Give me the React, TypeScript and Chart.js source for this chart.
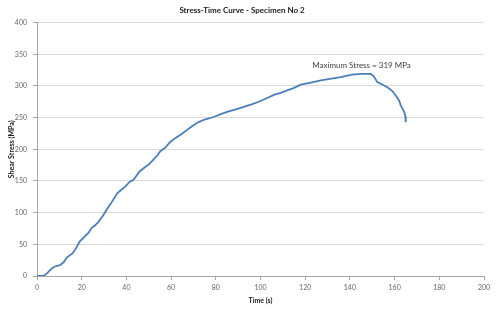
import React, { useEffect, useRef } from "react";
import { Chart, registerables } from "chart.js";

Chart.register(...registerables);

const timeSeconds: number[] = [
  0, 2, 3.6, 5, 6.6, 8, 10.3, 12, 13.3, 16, 17.5, 19, 21.5, 23, 24.5, 26, 27.5, 29.5, 31.2, 33.5,
  36, 38, 39.5, 41.4, 43.2, 45.9, 48.4, 50, 52.2, 54, 55.2, 57.5, 59.6, 62, 64.9, 68, 70, 72.3,
  75, 79, 82, 85, 89, 92.5, 96, 99.2, 103, 106, 109, 112, 115, 118, 122, 127, 131, 135.9, 141,
  145, 149.3, 150.5, 152.3, 154, 156.8, 159, 160.5, 162, 162.8, 164.3, 164.8, 165,
];
const stressMPa: number[] = [
  0, 0, 1.5, 6, 12, 15, 17, 22, 29, 36, 44, 54, 63, 68, 76, 80, 85.5, 95, 105, 117,
  131, 137, 141, 148.5, 152, 165, 172, 176, 184, 191, 197, 203, 211.5, 218, 224.6, 233, 238, 243,
  247, 251, 255, 259, 263, 267, 271, 275, 281, 286, 289, 293, 297, 302, 305, 308.7, 311, 314, 318,
  319, 319, 316, 306, 303, 298, 292, 285, 277, 269, 259, 252, 243,
];
const maxLabel = "Maximum Stress = 319 MPa";
const maxPoint = { t: 147, s: 319 };
const chartTitle = "Stress-Time Curve - Specimen No 2";
const xTitle = "Time (s)";
const yTitle = "Shear Stress (MPa)";

const FONT = "Lato, 'Open Sans', 'DejaVu Sans', sans-serif";

export default function App() {
  const ref = useRef<HTMLCanvasElement | null>(null);
  useEffect(() => {
    if (!ref.current) return;
    const annot = {
      id: "maxAnnot",
      afterDatasetsDraw(chart: any) {
        const { ctx, scales } = chart;
        const x = scales.x.getPixelForValue(maxPoint.t);
        const y = scales.y.getPixelForValue(maxPoint.s);
        ctx.save();
        ctx.font = `8px ${FONT}`;
        ctx.fillStyle = "#404040";
        ctx.textAlign = "center";
        ctx.textBaseline = "bottom";
        ctx.fillText(maxLabel, x - 4, y - 4);
        ctx.restore();
      },
    };
    const chart = new Chart(ref.current, {
      type: "line",
      data: {
        datasets: [
          {
            data: timeSeconds.map((t, i) => ({ x: t, y: stressMPa[i] })),
            borderColor: "#4a7ebb",
            borderWidth: 1.8,
            pointRadius: 0,
            fill: false,
            tension: 0,
          },
        ],
      },
      options: {
        animation: false,
        responsive: false,
        maintainAspectRatio: false,
        layout: { padding: { left: 0, right: 12, top: 0, bottom: 0 } },
        plugins: {
          legend: { display: false },
          tooltip: { enabled: false },
          title: {
            display: true,
            text: chartTitle,
            color: "#202020",
            font: { family: FONT, size: 8, weight: "bold" },
            padding: { top: 6, bottom: 7 },
          },
        },
        scales: {
          x: {
            type: "linear",
            min: 0,
            max: 200,
            afterFit(scale: any) {
              scale.height = 35;
            },
            ticks: {
              stepSize: 20,
              color: "#666666",
              font: { family: FONT, size: 7 },
              padding: 4,
              maxRotation: 0,
            },
            grid: {
              drawOnChartArea: false,
              drawTicks: true,
              tickLength: 4,
              tickColor: "#a6a6a6",
            },
            border: { color: "#a6a6a6", width: 1 },
            title: {
              display: true,
              text: xTitle,
              color: "#202020",
              font: { family: FONT, size: 7, weight: "bold" },
              padding: { top: 2, bottom: 6 },
            },
          },
          y: {
            min: 0,
            max: 400,
            afterFit(scale: any) {
              scale.width = 37;
            },
            ticks: {
              stepSize: 50,
              color: "#666666",
              font: { family: FONT, size: 7 },
              padding: 6,
            },
            grid: {
              color: "#d9d9d9",
              drawTicks: true,
              tickLength: 4,
              tickColor: "#a6a6a6",
            },
            border: { color: "#a6a6a6", width: 1 },
            title: {
              display: true,
              text: yTitle,
              color: "#202020",
              font: { family: FONT, size: 7, weight: "bold" },
              padding: { top: 8, bottom: 0 },
            },
          },
        },
      },
      plugins: [annot],
    });
    return () => chart.destroy();
  }, []);
  return (
    <div style={{ position: "fixed", left: 0, top: 0, width: 496, height: 311, background: "#fff" }}>
      <canvas ref={ref} width={496} height={311} style={{ width: 496, height: 311 }} />
    </div>
  );
}
